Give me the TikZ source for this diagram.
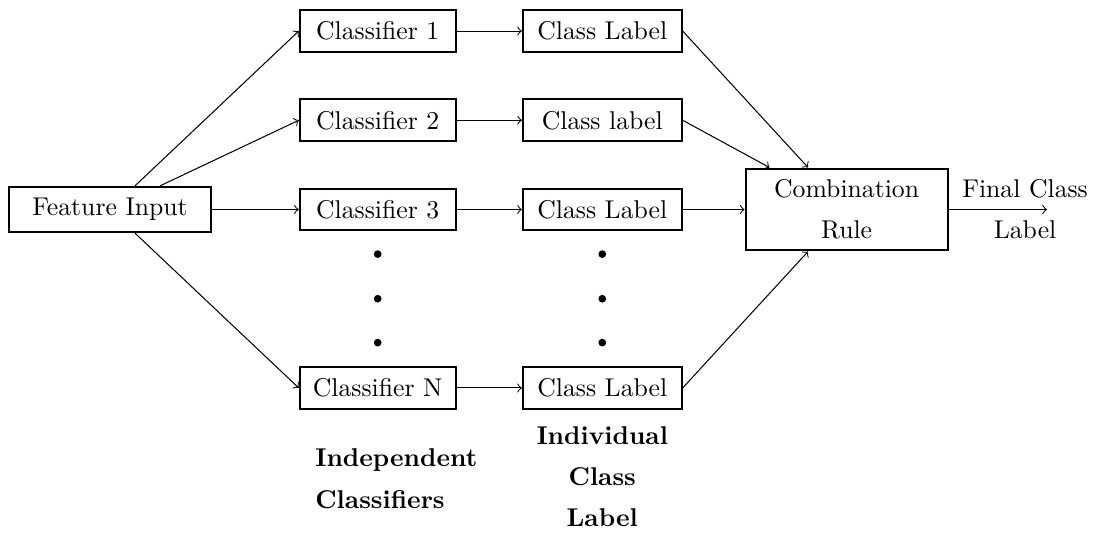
\documentclass[tikz,border=0pt]{standalone}
\usetikzlibrary{positioning}

\begin{document}
\begin{tikzpicture}[
    box/.style={draw, thick, align=center, minimum height=0.57cm},
    clf/.style={box, minimum width=2.13cm},
    lbl/.style={box, minimum width=2.17cm},
    caption/.style={font=\bfseries}
  ]
  \useasboundingbox (-1.504,-4.42) rectangle (13.48,2.864);

  \node[box, minimum width=2.76cm, minimum height=0.62cm] (feat) at (0,0) {Feature Input};

  \node[clf] (c1) at (3.66,2.44) {Classifier 1};
  \node[clf] (c2) at (3.66,1.22) {Classifier 2};
  \node[clf] (c3) at (3.66,0) {Classifier 3};
  \node[clf] (cn) at (3.66,-2.44) {Classifier N};

  \node[lbl] (l1) at (6.73,2.44) {Class Label};
  \node[lbl] (l2) at (6.73,1.22) {Class label};
  \node[lbl] (l3) at (6.73,0) {Class Label};
  \node[lbl] (ln) at (6.73,-2.44) {Class Label};

  \node[box, minimum width=2.76cm, minimum height=1.12cm] (comb) at (10.07,0) {Combination\\[4pt] Rule};
  \coordinate (out) at (12.81,0);
  \node[align=center] (final) at (12.51,0) {Final Class\\[4pt] Label};

  \foreach \y in {-0.61,-1.22,-1.82} {
    \fill (3.66,\y) circle (1.5pt);
    \fill (6.73,\y) circle (1.5pt);
  }

  \node[caption, align=left, anchor=west, inner sep=0pt] (indep) at (2.80,-3.68) {Independent\\[4pt] Classifiers};
  \node[caption, align=center] (indiv) at (6.73,-3.65) {Individual\\[4pt] Class\\[4pt] Label};

  \draw[->] (feat) -- (c1.west);
  \draw[->] (feat) -- (c2.west);
  \draw[->] (feat) -- (c3.west);
  \draw[->] (feat) -- (cn.west);

  \draw[->] (c1) -- (l1);
  \draw[->] (c2) -- (l2);
  \draw[->] (c3) -- (l3);
  \draw[->] (cn) -- (ln);

  \draw[->] (l1.east) -- (comb);
  \draw[->] (l2.east) -- (comb);
  \draw[->] (l3) -- (comb);
  \draw[->] (ln.east) -- (comb);

  \draw[->] (comb) -- (out);
\end{tikzpicture}
\end{document}
